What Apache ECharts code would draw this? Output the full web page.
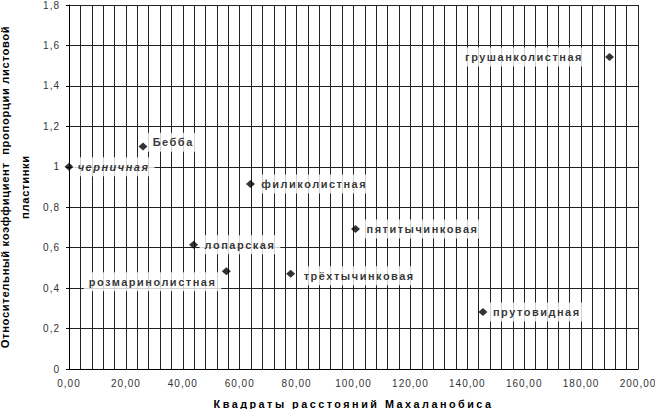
<!DOCTYPE html>
<html>
<head>
<meta charset="utf-8">
<script src="https://cdn.jsdelivr.net/npm/echarts@6/dist/echarts.min.js"></script>
<style>
html, body { margin: 0; padding: 0; background: #fff; }
#chart { width: 655px; height: 409px; }
#chart text[style*="11px"] { letter-spacing: 1.5px; }
#chart text[style*="10px"] { letter-spacing: 1px; }
#chart text[style*="10.8px"] { letter-spacing: 2.5px; }
#chart text[style*="11.2px"] { letter-spacing: 0.65px; }
</style>
</head>
<body>
<div id="chart"></div>
<script>
// ---- data ----
const names = ['черничная', 'Бебба', 'филиколистная', 'пятитычинковая', 'лопарская',
               'трёхтычинковая', 'прутовидная', 'розмаринолистная', 'грушанколистная'];
const distances = [0, 26.0, 63.8, 100.7, 43.8, 77.9, 145.5, 55.3, 190.0];
const coefficients = [1.0, 1.10, 0.915, 0.692, 0.615, 0.471, 0.282, 0.483, 1.543];
const xTickLabels = ['0,00', '20,00', '40,00', '60,00', '80,00', '100,00', '120,00', '140,00', '160,00', '180,00', '200,00'];
const yTickLabels = ['0', '0,2', '0,4', '0,6', '0,8', '1', '1,2', '1,4', '1,6', '1,8'];
const xTitle = 'Квадраты расстояний Махаланобиса';
const yTitle = 'Относительный коэффициент  пропорции листовой\nпластинки';

// ---- label layout (positions/styles, not data) ----
const SPACING = 1.5;
const HALF = 4.5;
const layout = {
  'черничная':        { side: 'right', gap: 8.7,  dy: 0,    italic: true },
  'Бебба':            { side: 'right', gap: 9.7,  dy: -4.3 },
  'филиколистная':    { side: 'right', gap: 10.7, dy: 0 },
  'пятитычинковая':   { side: 'right', gap: 11,   dy: 0 },
  'лопарская':        { side: 'right', gap: 11,   dy: 0 },
  'трёхтычинковая':   { side: 'right', gap: 13,   dy: 2 },
  'прутовидная':      { side: 'right', gap: 10,   dy: 0 },
  'розмаринолистная': { side: 'left',  gap: 10,   dy: 10.5 },
  'грушанколистная':  { side: 'left',  gap: 26.5, dy: 0 }
};

const PL = 5, PR = 5, PV = 4;
const data = names.map((n, i) => {
  const L = layout[n];
  const extra = n.length * SPACING;
  let label;
  if (L.side === 'right') {
    label = {
      position: 'right', distance: 0,
      padding: [PV, PR + extra, PV, PL],
      offset: [L.gap - HALF - PL, L.dy]
    };
  } else {
    label = {
      position: 'left', distance: 0,
      padding: [PV, PR, PV, PL + extra],
      offset: [-(L.gap - HALF - PR), L.dy]
    };
  }
  if (L.italic) label.fontStyle = 'italic';
  return { name: n, value: [distances[i], coefficients[i]], label: label };
});

const chart = echarts.init(document.getElementById('chart'), null, { renderer: 'svg' });
chart.setOption({
  animation: false,
  backgroundColor: '#fff',
  grid: { left: 69, right: 17, top: 5, bottom: 40, containLabel: false, outerBoundsMode: 'none' },
  xAxis: {
    type: 'value', min: 0, max: 200, interval: 20,
    name: xTitle, nameLocation: 'middle', nameGap: 29,
    nameTextStyle: { fontFamily: 'Liberation Sans', fontWeight: 'bold', fontSize: 10.8, color: '#000' },
    axisLine: { show: true, lineStyle: { color: '#000', width: 1 } },
    axisTick: { show: false },
    axisLabel: {
      fontFamily: 'Liberation Sans', fontSize: 10, color: '#333', margin: 9,
      formatter: v => xTickLabels[Math.round(v / 20)]
    },
    splitLine: { show: true, lineStyle: { color: '#222', width: 1 } },
    minorTick: { show: false, splitNumber: 5 },
    minorSplitLine: { show: true, lineStyle: { color: '#222', width: 1 } }
  },
  yAxis: {
    type: 'value', min: 0, max: 1.8, interval: 0.2,
    name: yTitle, nameLocation: 'middle', nameGap: 27,
    nameTextStyle: { fontFamily: 'Liberation Sans', fontWeight: 'bold', fontSize: 11.2, color: '#000', lineHeight: 20 },
    axisLine: { show: true, lineStyle: { color: '#000', width: 1 } },
    axisTick: { show: true, length: 3, lineStyle: { color: '#000' } },
    axisLabel: {
      fontFamily: 'Liberation Sans', fontSize: 10, color: '#333', margin: 9,
      formatter: v => yTickLabels[Math.round(v / 0.2)]
    },
    splitLine: { show: true, lineStyle: { color: '#222', width: 1 } }
  },
  series: [{
    type: 'scatter',
    symbol: 'diamond',
    symbolSize: [9, 8],
    itemStyle: { color: '#000' },
    z: 5,
    label: {
      show: true,
      formatter: '{b}',
      fontFamily: 'Liberation Sans', fontWeight: 'bold', fontSize: 11, color: '#000',
      backgroundColor: '#fff'
    },
    data: data
  }]
});
</script>
</body>
</html>
